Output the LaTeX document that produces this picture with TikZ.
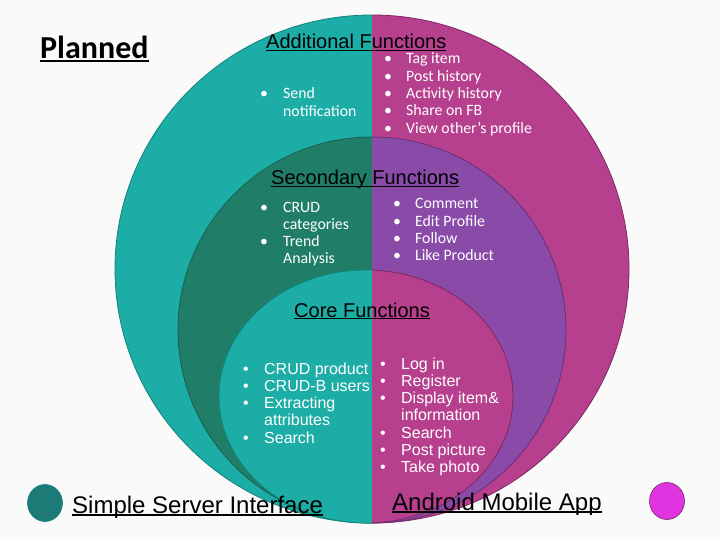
\documentclass[tikz,border=0pt]{standalone}
\usepackage{fontspec}
\setmainfont{Liberation Sans}
\newfontfamily\carl{Carlito}
\usetikzlibrary{shapes.geometric}
\definecolor{bgcol}{HTML}{FAFAFA}
\definecolor{tealL}{HTML}{1BADA6}
\definecolor{tealD}{HTML}{13827C}
\definecolor{greenS}{HTML}{207E68}
\definecolor{greenD}{HTML}{17604F}
\definecolor{magL}{HTML}{B7408E}
\definecolor{magD}{HTML}{7C2762}
\definecolor{purS}{HTML}{8A4BA8}
\definecolor{purD}{HTML}{62307A}
\definecolor{dotL}{HTML}{1E7A76}
\definecolor{dotR}{HTML}{DF34DF}
\newcommand\ulbar[3]{\setbox0=\hbox{#1}\rlap{\rule[-#2]{\wd0}{#3}}\box0}
\newcommand\bl[1]{\makebox[#1][l]{\textbullet}}
\begin{document}
\begin{tikzpicture}[x=1pt,y=-1pt,
  title/.style={anchor=base west, inner sep=0pt, text=black, font=\fontsize{20}{22}\selectfont},
  clist/.style={anchor=base west, inner sep=0pt, text=white, font=\carl\fontsize{15.8}{17.3}\selectfont},
  alist/.style={anchor=base west, inner sep=0pt, text=white, font=\fontsize{16}{17.3}\selectfont},
  bottom/.style={anchor=base west, inner sep=0pt, text=black, font=\fontsize{24}{26}\selectfont},
  dot/.style={ellipse, inner sep=0pt, minimum width=35pt, minimum height=37pt, line width=0.6pt}]
\useasboundingbox (0,0) rectangle (720,540);
\fill[bgcol] (0,0) rectangle (720,540);
% outer ellipse
\begin{scope}
  \clip (0,0) rectangle (372,540);
  \filldraw[fill=tealL, draw=tealD, line width=0.8pt] (372,269) ellipse [x radius=257pt, y radius=254pt];
\end{scope}
\begin{scope}
  \clip (372,0) rectangle (720,540);
  \filldraw[fill=magL, draw=magD, line width=0.8pt] (372,269) ellipse [x radius=257pt, y radius=254pt];
\end{scope}
% secondary ellipse
\begin{scope}
  \clip (0,0) rectangle (372,540);
  \filldraw[fill=greenS, draw=greenD, line width=0.8pt] (372,330) ellipse [x radius=194pt, y radius=193pt];
\end{scope}
\begin{scope}
  \clip (372,0) rectangle (720,540);
  \filldraw[fill=purS, draw=purD, line width=0.8pt] (372,330) ellipse [x radius=194pt, y radius=193pt];
\end{scope}
% core ellipse
\begin{scope}
  \clip (0,0) rectangle (372,540);
  \filldraw[fill=tealL, draw=tealD, line width=0.8pt] (366,396.5) ellipse [x radius=147pt, y radius=126.5pt];
\end{scope}
\begin{scope}
  \clip (372,0) rectangle (720,540);
  \filldraw[fill=magL, draw=magD, line width=0.8pt] (366,396.5) ellipse [x radius=147pt, y radius=126.5pt];
\end{scope}
% titles
\node[anchor=base west, inner sep=0pt, font=\carl\bfseries\fontsize{32}{34}\selectfont] (planned) at (40,59) {\ulbar{Planned}{3pt}{2.2pt}};
\node[title] (addt) at (266,49) {\ulbar{Additional Functions}{2.3pt}{1.6pt}};
\node[title] (sect) at (271,185) {\ulbar{Secondary Functions}{2.3pt}{1.6pt}};
\node[title] (coret) at (294,317) {\ulbar{Core Functions}{2.3pt}{1.6pt}};
% additional lists
\node[clist] (addl) at (260,99) {\begin{tabular}[t]{@{}l@{}}\bl{23pt}Send\\\hspace*{23pt}notification\end{tabular}};
\node[clist] (addr) at (384,64) {\begin{tabular}[t]{@{}l@{}}\bl{22pt}Tag item\\\bl{22pt}Post history\\\bl{22pt}Activity history\\\bl{22pt}Share on FB\\\bl{22pt}View other’s profile\end{tabular}};
% secondary lists
\node[clist] (secl) at (260,212) {\begin{tabular}[t]{@{}l@{}}\bl{23pt}CRUD\\\hspace*{23pt}categories\\\bl{23pt}Trend\\\hspace*{23pt}Analysis\end{tabular}};
\node[clist] (secr) at (393,209) {\begin{tabular}[t]{@{}l@{}}\bl{22pt}Comment\\\bl{22pt}Edit Profile\\\bl{22pt}Follow\\\bl{22pt}Like Product\end{tabular}};
% core lists
\node[alist] (corel) at (243,374) {\begin{tabular}[t]{@{}l@{}}\bl{21pt}CRUD product\\\bl{21pt}CRUD-B users\\\bl{21pt}Extracting\\\hspace*{21pt}attributes\\\bl{21pt}Search\end{tabular}};
\node[alist] (corer) at (380,369) {\begin{tabular}[t]{@{}l@{}}\bl{21pt}Log in\\\bl{21pt}Register\\\bl{21pt}Display item\&\\\hspace*{21pt}information\\\bl{21pt}Search\\\bl{21pt}Post picture\\\bl{21pt}Take photo\end{tabular}};
% bottom legend
\node[dot, fill=dotL, draw=tealD] (ldot) at (45,503) {};
\node[bottom] (server) at (72,513) {\ulbar{Simple Server Interface}{2.5pt}{1.8pt}};
\node[bottom] (android) at (392,510) {\ulbar{Android Mobile App}{2.5pt}{1.8pt}};
\node[dot, fill=dotR, draw=magD] (rdot) at (667,501) {};
\end{tikzpicture}
\end{document}
